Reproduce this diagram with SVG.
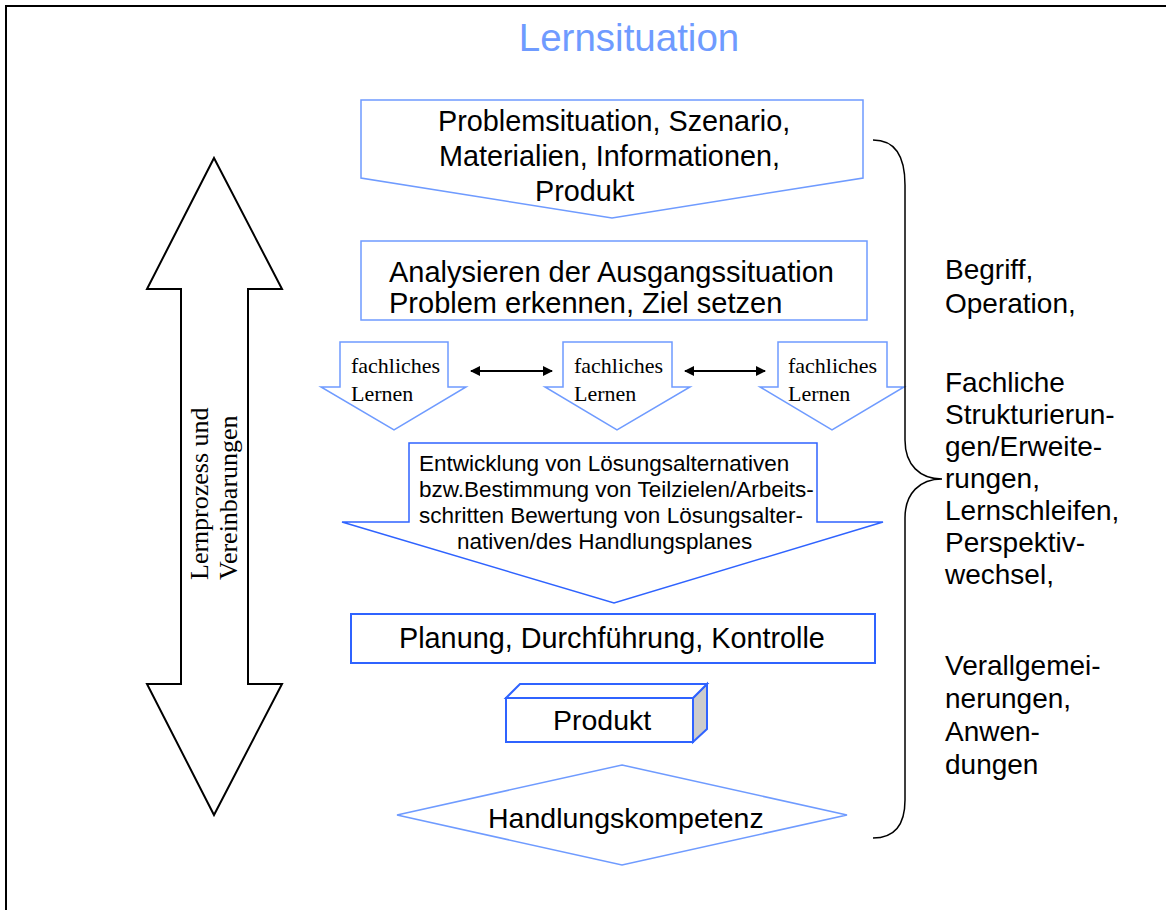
<svg xmlns="http://www.w3.org/2000/svg" width="1166" height="910" viewBox="0 0 1166 910">
<style>
.lb{fill:#fff;stroke:#6f9bff;stroke-width:1.5}
.db{fill:#fff;stroke:#2f63ff;stroke-width:2}
.s{font-family:"Liberation Sans",Arial,sans-serif;fill:#000}
.t{font-family:"Liberation Serif","Times New Roman",serif;fill:#000}
.k{fill:none;stroke:#000;stroke-width:2}
</style>
<defs>
<marker id="ah" markerWidth="10" markerHeight="10" refX="9" refY="5" orient="auto-start-reverse" markerUnits="userSpaceOnUse">
<path d="M0,0 L10,5 L0,10 z" fill="#000"/>
</marker>
</defs>
<rect width="1166" height="910" fill="#fff"/>
<path d="M6,915 V6 H1170" fill="none" stroke="#000" stroke-width="2"/>
<text x="629" y="51" text-anchor="middle" class="s" font-size="38.5" style="fill:#6f9bff">Lernsituation</text>

<g id="prozess">
<polygon points="214,158 282,289 248,289 248,684 282,684 214,815 147,684 181,684 181,289 147,289" fill="#fff" stroke="#000" stroke-width="2"/>
<text class="t" font-size="26" transform="translate(208,580) rotate(-90)">Lernprozess und</text>
<text class="t" font-size="26" transform="translate(237,580) rotate(-90)">Vereinbarungen</text>
</g>

<g id="problem">
<polygon class="lb" points="361,100 863,100 863,178 612,218 361,178"/>
<text class="s" font-size="28.8" x="438" y="131">Problemsituation, Szenario,</text>
<text class="s" font-size="28.8" x="439" y="166">Materialien, Informationen,</text>
<text class="s" font-size="28.8" x="535" y="201">Produkt</text>
</g>

<g id="analyse">
<rect class="lb" x="361" y="241" width="506" height="79"/>
<text class="s" font-size="29" x="389" y="282">Analysieren der Ausgangssituation</text>
<text class="s" font-size="29" x="389" y="313">Problem erkennen, Ziel setzen</text>
</g>

<g id="fach1">
<polygon class="lb" points="340,342 448,342 448,387 466,387 394,430 321,387 340,387"/>
<text class="t" font-size="22" x="351" y="373">fachliches</text>
<text class="t" font-size="22" x="351" y="401">Lernen</text>
</g>
<g id="fach2">
<polygon class="lb" points="563,342 672,342 672,387 690,387 617,430 545,387 563,387"/>
<text class="t" font-size="22" x="574" y="373">fachliches</text>
<text class="t" font-size="22" x="574" y="401">Lernen</text>
</g>
<g id="fach3">
<polygon class="lb" points="778,342 887,342 887,387 904,387 832,430 760,387 778,387"/>
<text class="t" font-size="22" x="788" y="373">fachliches</text>
<text class="t" font-size="22" x="788" y="401">Lernen</text>
</g>

<g id="entwicklung">
<polygon class="db" style="stroke-width:1.5" points="409,443 817,443 817,522 883,522 614,603 342,522 409,522"/>
<text class="s" font-size="22.5" x="419" y="471">Entwicklung von Lösungsalternativen</text>
<text class="s" font-size="22.5" x="419" y="497">bzw.Bestimmung von Teilzielen/Arbeits-</text>
<text class="s" font-size="22.5" x="419" y="523">schritten Bewertung von Lösungsalter-</text>
<text class="s" font-size="22.5" x="457" y="549">nativen/des Handlungsplanes</text>
</g>

<g id="planung">
<rect class="db" x="351" y="614" width="524" height="49"/>
<text class="s" font-size="28.8" x="399" y="648">Planung, Durchführung, Kontrolle</text>
</g>

<g id="produkt">
<polygon points="693,698 707,684 707,729 693,742" fill="#cccccc" stroke="#2f63ff" stroke-width="2"/>
<polygon points="506,698 520,684 707,684 693,698" fill="#fff" stroke="#2f63ff" stroke-width="2"/>
<rect class="db" x="506" y="698" width="187" height="44"/>
<text class="s" font-size="28.5" x="553" y="730">Produkt</text>
</g>

<g id="kompetenz">
<polygon class="lb" points="622,765 847,815 622,865 397,815"/>
<text class="s" font-size="28.5" x="488" y="828">Handlungskompetenz</text>
</g>

<g id="connectors">
<line x1="471" y1="371" x2="552" y2="371" stroke="#000" stroke-width="2" marker-start="url(#ah)" marker-end="url(#ah)"/>
<line x1="685" y1="371" x2="765" y2="371" stroke="#000" stroke-width="2" marker-start="url(#ah)" marker-end="url(#ah)"/>
</g>

<g id="klammer">
<path class="k" style="stroke-width:1.5" d="M873,140 C895,140 905,155 905,185 L905,440 C905,465 920,479 942,479 C920,479 905,493 905,518 L905,800 C905,825 895,838 873,838"/>
<g class="s" font-size="28">
<text x="945" y="279">Begriff,</text>
<text x="945" y="313">Operation,</text>
<text x="945" y="392">Fachliche</text>
<text x="945" y="424">Strukturierun-</text>
<text x="945" y="456">gen/Erweite-</text>
<text x="945" y="488">rungen,</text>
<text x="945" y="520">Lernschleifen,</text>
<text x="945" y="552">Perspektiv-</text>
<text x="945" y="584">wechsel,</text>
<text x="945" y="675">Verallgemei-</text>
<text x="945" y="708">nerungen,</text>
<text x="945" y="741">Anwen-</text>
<text x="945" y="774">dungen</text>
</g>
</g>
</svg>
